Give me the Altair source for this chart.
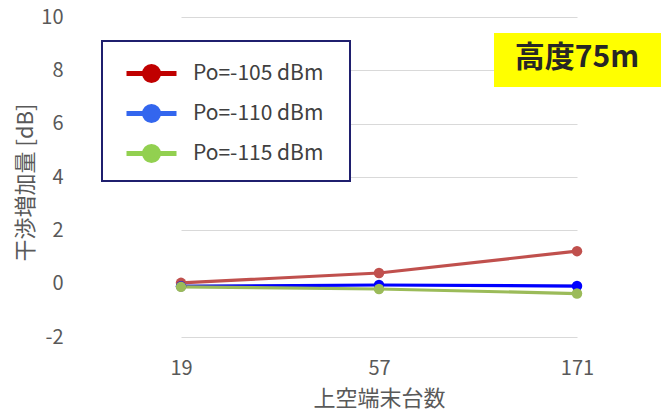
import altair as alt
import pandas as pd

# Number of terminals in the air (x categories)
terminals = ["19", "57", "171"]

# Interference increase [dB] per received power level
series_names = ["Po=-105 dBm", "Po=-110 dBm", "Po=-115 dBm"]
po_105 = [0.03, 0.40, 1.22]
po_110 = [-0.10, -0.05, -0.09]
po_115 = [-0.12, -0.20, -0.37]

line_colors = ["#C0504D", "#0000FF", "#9BBB59"]
legend_colors = ["#C00000", "#3366EE", "#92D050"]

badge_text = ["高度75m"]

FONT = "Noto Sans CJK JP"

rows = []
for name, vals in zip(series_names, [po_105, po_110, po_115]):
    for t, v in zip(terminals, vals):
        rows.append({"terminals": t, "increase": v, "series": name})
df = pd.DataFrame(rows)

x_enc = alt.X(
    "terminals:N",
    sort=terminals,
    scale=alt.Scale(type="point", range=[98, 494], padding=0),
    axis=alt.Axis(
        title="上空端末台数",
        labelAngle=0,
        labelFontSize=20,
        labelColor="#595959",
        labelPadding=21,
        labelFont=FONT,
        titleFont=FONT,
        titleFontSize=22,
        titleFontWeight="normal",
        titleColor="#595959",
        titleX=296,
        titleY=61,
        titleBaseline="middle",
        grid=False,
        ticks=False,
        domain=False,
    ),
)
y_enc = alt.Y(
    "increase:Q",
    scale=alt.Scale(domain=[-2, 10], nice=False, zero=False),
    axis=alt.Axis(
        title="干渉増加量 [dB]",
        values=[-2, 0, 2, 4, 6, 8, 10],
        # plain hyphen for negative numbers
        labelExpr="datum.value < 0 ? '-' + abs(datum.value) : '' + datum.value",
        labelFontSize=20,
        labelColor="#595959",
        labelPadding=20,
        labelFont=FONT,
        titleFont=FONT,
        titleFontSize=22,
        titleFontWeight="normal",
        titleColor="#595959",
        titleX=-58,
        titleY=165,
        titleBaseline="middle",
        ticks=False,
        tickSize=0,
        domain=False,
        grid=True,
        gridColor="#D9D9D9",
        gridWidth=1,
    ),
)

color_lines = alt.Color(
    "series:N",
    scale=alt.Scale(domain=series_names, range=line_colors),
    legend=None,
)

base = alt.Chart(df)

lines = base.mark_line(strokeWidth=3.2).encode(x=x_enc, y=y_enc, color=color_lines)
points = base.mark_circle(size=110, opacity=1).encode(x=x_enc, y=y_enc, color=color_lines)

# Legend symbol: a short line with a dot in the middle
legend_symbol = "M-2.5,0L2.5,0M-0.7,0A0.7,0.7,0,1,0,0.7,0A0.7,0.7,0,1,0,-0.7,0Z"
legend_scale = alt.Scale(domain=series_names, range=legend_colors)
legend_def = alt.Legend(
    title=None,
    orient="none",
    legendX=56,
    legendY=44,
    padding=0,
    symbolType=legend_symbol,
    symbolSize=400,
    symbolStrokeWidth=5,
    symbolOpacity=1,
    labelFont=FONT,
    labelFontSize=21,
    labelColor="#404040",
    labelOffset=29,
    rowPadding=5,
)
# Legend-only layer: no rows reach the marks, the scale domain drives the entries
legend_layer = (
    base.transform_filter("datum.increase > 1000")
    .mark_point(filled=True)
    .encode(
        x=x_enc,
        y=y_enc,
        fill=alt.Fill("series:N", scale=legend_scale, legend=legend_def),
        stroke=alt.Stroke("series:N", scale=legend_scale, legend=legend_def),
    )
)

# Frame behind the legend entries
legend_box = alt.Chart(pd.DataFrame({"k": [0]})).mark_rect(
    fill="white", stroke="#1F1F6E", strokeWidth=2
).encode(x=alt.value(19), x2=alt.value(267), y=alt.value(24), y2=alt.value(164))

badge_df = pd.DataFrame({"label": badge_text})
badge_rect = alt.Chart(badge_df).mark_rect(fill="#FFFF00").encode(
    x=alt.value(411), x2=alt.value(578), y=alt.value(16), y2=alt.value(70)
)
badge_label = alt.Chart(badge_df).mark_text(
    font=FONT, fontSize=30, fontWeight="bold", color="#262626",
    align="center", baseline="middle"
).encode(x=alt.value(494), y=alt.value(41), text="label:N")

chart = (
    alt.layer(legend_box, badge_rect, badge_label, lines, points, legend_layer)
    .resolve_scale(color="independent")
    .properties(
        width=582,
        height=320,
        autosize=alt.AutoSizeParams(type="none"),
        padding={"left": 83, "top": 17, "right": 0, "bottom": 73},
        background="white",
    )
    .configure_view(strokeWidth=0)
)

chart.save("out.html", embed_options={"renderer": "svg", "actions": False})
